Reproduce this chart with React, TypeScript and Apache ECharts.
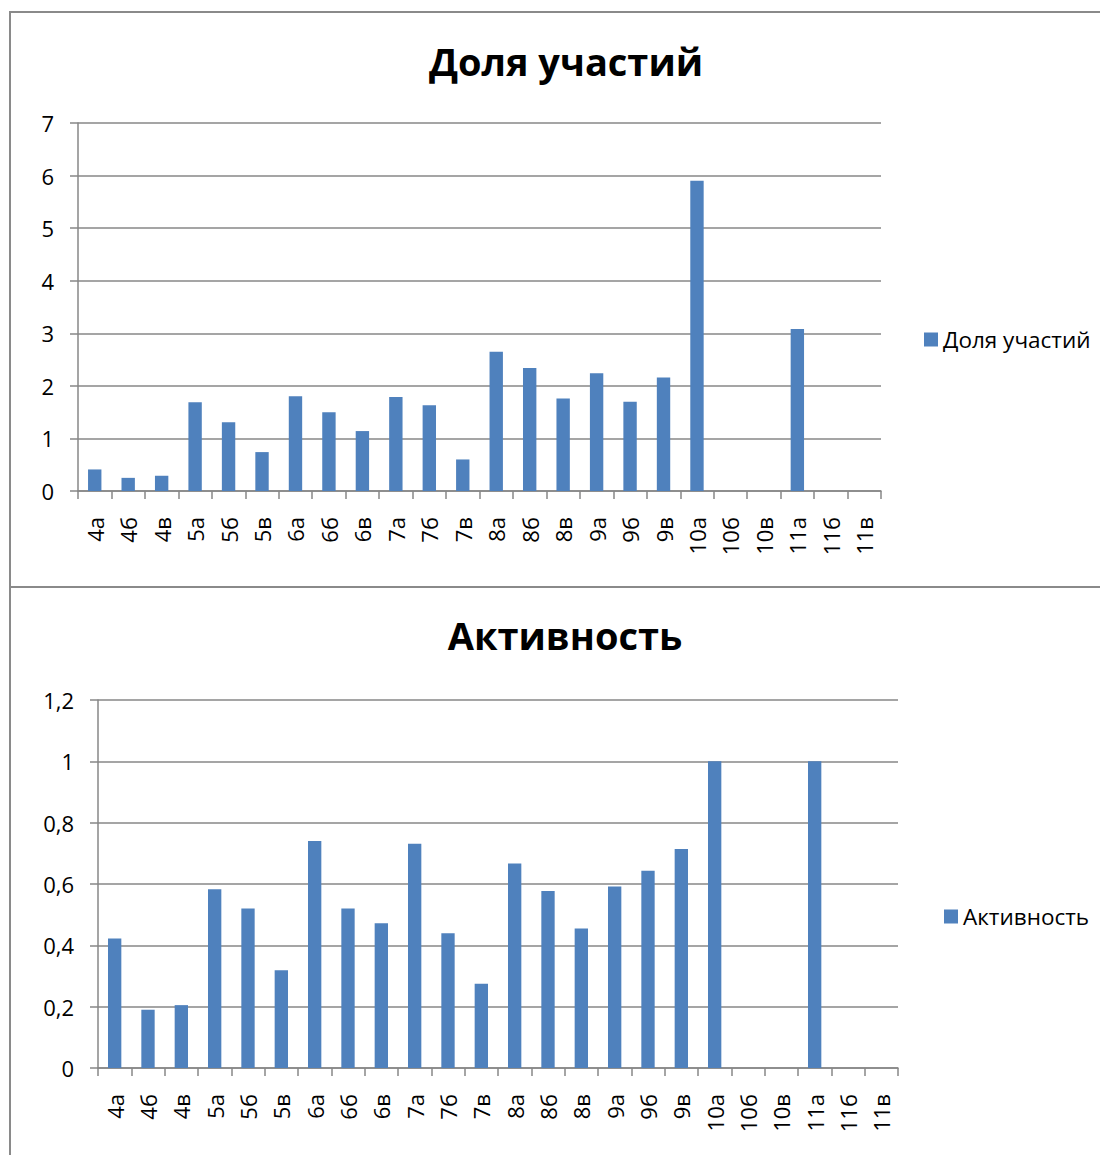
import React, { useEffect, useRef } from "react";
import * as echarts from "echarts";

const categories = ["4а","4б","4в","5а","5б","5в","6а","6б","6в","7а","7б","7в","8а","8б","8в","9а","9б","9в","10а","10б","10в","11а","11б","11в"];
const shareValues = [0.41,0.25,0.29,1.69,1.31,0.74,1.80,1.50,1.14,1.79,1.63,0.60,2.65,2.34,1.76,2.24,1.70,2.16,5.90,0,0,3.08,0,0];
const activityValues = [0.422,0.19,0.205,0.583,0.52,0.319,0.74,0.52,0.472,0.731,0.439,0.275,0.667,0.577,0.455,0.592,0.643,0.714,1,0,0,1,0,0];
const shareTitle = "Доля участий";
const activityTitle = "Активность";

const FONT = "'Open Sans', 'Noto Sans', sans-serif";
const GRID_COLOR = "#878787";
const BAR_COLOR = "#4f81bd";

export default function App() {
  const ref = useRef<HTMLDivElement>(null);
  useEffect(() => {
    if (!ref.current) return;
    const chart = echarts.init(ref.current, null, { renderer: "svg" });
    const fmt = (v: number) => String(Math.round(v * 10) / 10).replace(".", ",");
    const xAxisBase = (gridIndex: number) => ({
      type: "category" as const,
      gridIndex,
      data: categories,
      axisLine: { show: true, lineStyle: { color: GRID_COLOR, width: 1.5 } },
      axisTick: { show: true, length: 8, lineStyle: { color: GRID_COLOR, width: 1.5 } },
      axisLabel: { rotate: 90, margin: 26, fontSize: 22, color: "#000", fontFamily: FONT, interval: 0 },
      splitLine: { show: false },
    });
    const yAxisBase = (gridIndex: number, max: number, interval: number) => ({
      type: "value" as const,
      gridIndex,
      min: 0,
      max,
      interval,
      axisLine: { show: true, lineStyle: { color: GRID_COLOR, width: 1.5 } },
      axisTick: { show: true, length: 8, lineStyle: { color: GRID_COLOR, width: 1.5 } },
      axisLabel: { margin: 24, fontSize: 22, color: "#000", fontFamily: FONT, formatter: fmt },
      splitLine: { show: true, lineStyle: { color: GRID_COLOR, width: 1.5 } },
    });
    chart.setOption({
      animation: false,
      textStyle: { fontFamily: FONT },
      title: [
        { text: shareTitle, left: 553, top: 29, textAlign: "center", textStyle: { fontSize: 38, fontWeight: "bold", color: "#000", fontFamily: FONT } },
        { text: activityTitle, left: 552, top: 603, textAlign: "center", textStyle: { fontSize: 38, fontWeight: "bold", color: "#000", fontFamily: FONT } },
      ],
      legend: [
        { data: [shareTitle], left: 911, top: 315, icon: "rect", itemWidth: 14, itemHeight: 14, itemStyle: { borderWidth: 0 }, textStyle: { fontSize: 22.5, color: "#000", fontFamily: FONT } },
        { data: [activityTitle], left: 931, top: 892, icon: "rect", itemWidth: 14, itemHeight: 14, itemStyle: { borderWidth: 0 }, textStyle: { fontSize: 22.5, color: "#000", fontFamily: FONT } },
      ],
      graphic: [
        { type: "rect", shape: { x: 2, y: 4, width: 1200, height: 575 }, style: { fill: "none", stroke: "#8a8a8a", lineWidth: 2 }, silent: true },
        { type: "rect", shape: { x: 2, y: 579, width: 1200, height: 700 }, style: { fill: "none", stroke: "#8a8a8a", lineWidth: 2 }, silent: true },
      ],
      grid: [
        { left: 70, top: 115, width: 803, height: 368, containLabel: false },
        { left: 90, top: 692, width: 800, height: 368, containLabel: false },
      ],
      xAxis: [xAxisBase(0), xAxisBase(1)],
      yAxis: [yAxisBase(0, 7, 1), yAxisBase(1, 1.2, 0.2)],
      series: [
        { name: shareTitle, type: "bar", xAxisIndex: 0, yAxisIndex: 0, data: shareValues, barWidth: "40%", itemStyle: { color: BAR_COLOR } },
        { name: activityTitle, type: "bar", xAxisIndex: 1, yAxisIndex: 1, data: activityValues, barWidth: "40%", itemStyle: { color: BAR_COLOR } },
      ],
    });
    return () => chart.dispose();
  }, []);
  return <div ref={ref} style={{ width: 1100, height: 1147 }} />;
}
